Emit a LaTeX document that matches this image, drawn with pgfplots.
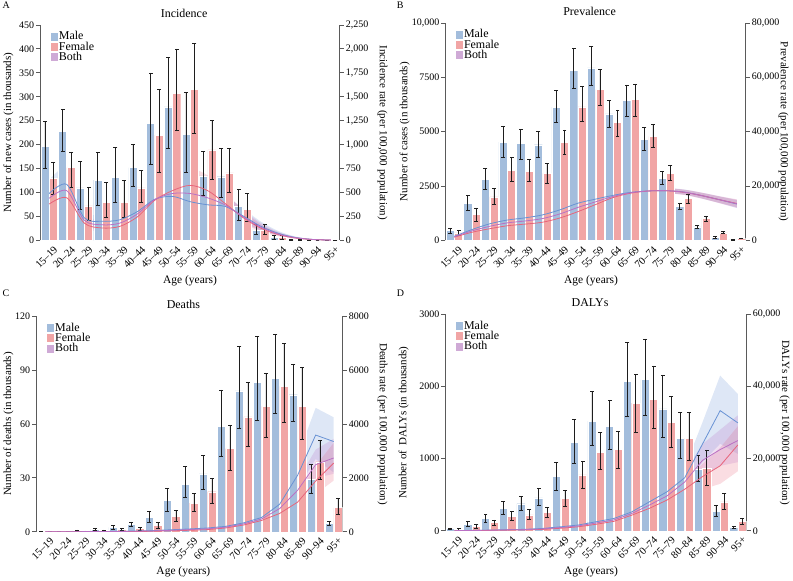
\documentclass[border=0pt]{standalone}
\usepackage{fontspec}
\setmainfont{Liberation Serif}
\usepackage{pgfplots}
\pgfplotsset{compat=1.18}
\usepackage{pgfplotstable}
\usepgfplotslibrary{fillbetween}

\definecolor{malec}{RGB}{163,189,220}
\definecolor{femc}{RGB}{241,165,165}
\definecolor{bothc}{RGB}{207,170,214}
\definecolor{malel}{RGB}{104,146,212}
\definecolor{feml}{RGB}{232,100,122}
\definecolor{bothl}{RGB}{186,112,196}
\definecolor{axgray}{RGB}{90,90,90}
\definecolor{errc}{RGB}{30,30,30}

% ---------------- data ----------------
\pgfplotstableread{
x m ml mh f fl fh
0 196 151 248 130 96 164
1 228 186 273 152 112 185
2 110 66 165 72 42 112
3 126 74 184 79 48 121
4 132 80 195 80 49 125
5 152 113 201 110 79 146
6 245 160 350 220 143 315
7 279 192 382 307 231 400
8 221 143 309 315 223 412
9 135 95 186 189 127 251
10 133 91 193 141 100 193
11 71 42 107 65 39 99
12 22 12 33 22 13 33
13 6 2 10 7 3 11
14 2 0.5 3 2 1 3
15 0.5 0.2 0.8 0.8 0.3 1.2
16 0.2 0.1 0.3 0.3 0.1 0.5
}\barsA
\pgfplotstableread{
x m ml mu f fl fu b bl bu
0 490 360 630 380 280 500 440 320 570
1 585 430 750 445 330 580 520 380 670
2 235 170 310 180 130 240 210 150 280
3 200 145 265 130 95 175 163 118 215
4 215 155 285 146 105 195 180 130 240
5 300 220 390 245 180 320 275 200 360
6 430 315 560 420 310 550 428 315 560
7 460 340 600 520 385 680 490 360 640
8 405 300 530 575 425 750 490 360 640
9 372 275 485 520 385 680 445 330 580
10 355 260 465 385 285 505 370 270 485
11 257 190 335 240 175 315 248 182 325
12 150 110 200 130 95 170 140 103 185
13 75 55 100 62 45 82 68 50 90
14 30 22 40 25 18 33 28 20 37
15 10 7 13 9 6 12 10 7 13
16 4 3 5 4 3 5 4 3 5
}\rateA
\pgfplotstableread{
x m ml mh f fl fh
0 470 350 580 350 250 460
1 1700 1400 2080 1200 900 1500
2 2820 2350 3320 2000 1650 2380
3 4520 3800 5250 3220 2700 3800
4 4450 3750 5100 3180 2700 3720
5 4400 3800 5000 3080 2620 3560
6 6130 5450 6900 4500 3950 5080
7 7830 6980 8820 6140 5480 7080
8 7930 7120 8930 6950 6200 7880
9 5820 5220 6450 5430 4800 6000
10 6430 5700 7150 6480 5700 7200
11 4660 4150 5180 4780 4280 5320
12 2870 2570 3160 3080 2760 3440
13 1580 1420 1730 1920 1720 2130
14 620 550 700 1010 900 1130
15 150 120 180 350 310 400
16 30 20 40 100 80 120
}\barsB
\pgfplotstableread{
x m ml mu f fl fu b bl bu
0 1500 1400 1600 1200 1100 1300 1350 1250 1450
1 4000 3800 4200 3000 2800 3200 3500 3300 3700
2 6100 5800 6400 4300 4050 4550 5200 4900 5500
3 7500 7150 7850 5400 5100 5700 6450 6100 6800
4 8300 7900 8700 6000 5700 6300 7150 6800 7500
5 9400 8950 9850 6700 6350 7050 8050 7650 8450
6 11300 10750 11850 8300 7900 8700 9800 9300 10300
7 13700 13000 14400 10600 10050 11150 12150 11550 12750
8 15200 14450 15950 13200 12550 13850 14200 13500 14900
9 16600 15750 17450 15800 15000 16600 16200 15400 17000
10 17700 16800 18600 17400 16550 18250 17550 16650 18450
11 18200 17300 19100 18200 17300 19100 18200 17300 19100
12 18300 17350 19250 18300 17350 19250 18300 17350 19250
13 17800 16850 18750 17700 16750 18650 17750 16800 18700
14 16500 15450 17550 16500 15450 17550 16500 15400 17600
15 15000 13800 16200 15000 13800 16200 15000 13700 16300
16 13400 12000 14800 13600 12200 15000 13500 11900 15100
}\rateB
\pgfplotstableread{
x m ml mh f fl fh
0 0.3 0.2 0.4 0.1 0.05 0.2
1 0.3 0.2 0.4 0.1 0.05 0.2
2 0.7 0.4 1.0 0.3 0.2 0.5
3 1.5 1.0 2.2 0.6 0.3 1.0
4 2.5 1.5 3.5 1.2 0.6 1.8
5 4.2 3.0 5.5 1.8 1.0 2.5
6 8.2 5.5 11.3 3.6 2.2 5.0
7 17.3 11.2 24 8.6 5.6 12
8 26.4 19.2 36.3 16 11.5 21.5
9 32.2 23.5 42.7 22.3 16 29.5
10 58.7 42 79 46.3 34.5 59.5
11 78.5 57.5 103 64 47.5 83
12 83.3 62 109 70 52.5 88.5
13 85.3 66 110 81 61 105
14 76.3 61.5 93 69.8 51.5 91.8
15 29 21.5 37.3 39 29 50.7
16 4.6 3.6 5.8 13.5 9.5 18.8
}\barsC
\pgfplotstableread{
x m ml mu f fl fu b bl bu
0 2 1.5 2.5 1 0.8 1.2 1.5 1.2 1.8
1 3 2.4 3.6 1 0.8 1.2 2 1.6 2.4
2 6 5 7 2 1.6 2.4 4 3.2 4.8
3 10 8 12 4 3.2 4.8 7 5.6 8.4
4 16 13 19 6 4.8 7.2 11 8.8 13
5 26 21 31 10 8 12 18 14 22
6 45 36 54 18 14 22 32 26 38
7 75 60 90 35 28 42 55 44 66
8 105 85 125 55 44 66 80 64 96
9 140 112 168 80 64 96 110 88 132
10 200 160 240 140 112 168 170 136 205
11 330 265 400 250 200 300 290 232 350
12 530 425 640 420 335 505 475 380 570
13 1020 800 1300 680 540 830 860 690 1040
14 2100 1600 2800 1100 850 1400 1540 1230 1900
15 3590 2700 4600 1880 1400 2450 2490 2000 3050
16 3350 2200 4250 2550 1900 3300 2740 2150 3450
}\rateC
\pgfplotstableread{
x m ml mh f fl fh
0 30 20 40 20 10 30
1 90 55 130 65 40 95
2 170 120 225 115 80 150
3 315 235 405 195 140 265
4 375 285 480 220 160 295
5 455 350 585 255 190 325
6 755 555 955 450 345 560
7 1225 935 1540 775 590 960
8 1520 1185 1930 1090 845 1365
9 1445 1130 1805 1125 870 1380
10 2075 1590 2605 1770 1360 2165
11 2095 1600 2660 1825 1420 2285
12 1690 1290 2150 1505 1150 1860
13 1280 1000 1640 1285 975 1640
14 850 680 1040 860 630 1120
15 270 205 350 400 300 520
16 45 35 55 130 90 170
}\barsD
\pgfplotstableread{
x m ml mu f fl fu b bl bu
0 30 24 36 15 12 18 22 18 26
1 100 80 120 60 48 72 80 64 96
2 180 145 215 110 88 132 145 116 174
3 300 240 360 180 145 215 240 190 290
4 400 320 480 240 190 290 320 255 385
5 650 520 780 380 300 460 515 410 620
6 1100 880 1320 700 560 840 900 720 1080
7 1600 1280 1920 1100 880 1320 1350 1080 1620
8 2500 2000 3000 1800 1440 2160 2150 1720 2580
9 3400 2700 4100 2600 2080 3120 3000 2400 3600
10 5200 4150 6250 4300 3450 5150 4750 3800 5700
11 8000 6400 9600 6200 4950 7450 7100 5700 8500
12 10800 8600 13000 8500 6800 10200 9650 7700 11600
13 14700 12000 17500 11500 9200 13800 13500 10800 16200
14 24000 19000 30000 15000 11500 18500 19500 15000 24000
15 33300 24100 43000 18000 13000 23000 22500 18000 28000
16 29900 21300 37900 23800 16500 29000 25000 19000 32000
}\rateD

% ---------------- styles ----------------
\pgfplotsset{
  common/.style={scale only axis, anchor=south west, xmin=-0.5, xmax=16.5, ymin=0,
    scaled y ticks=false,
    tick align=outside, major tick length=4pt,
    yticklabel style={font=\fontsize{10}{12}\selectfont, inner sep=2pt},
    ylabel style={font=\fontsize{11}{13}\selectfont, anchor=center},
    y axis line style={color=axgray, line width=0.8pt},
    ytick style={color=axgray, line width=0.8pt}},
  barax/.style={common, axis y line*=left, axis x line*=bottom,
    x axis line style={draw=none}, xtick={0,...,16},
    xticklabels={15--19,20--24,25--29,30--34,35--39,40--44,45--49,50--54,55--59,60--64,65--69,70--74,75--79,80--84,85--89,90--94,95+},
    xtick style={draw=none},
    xticklabel style={xshift=4pt, rotate=45, anchor=north east, font=\fontsize{10.5}{12}\selectfont, inner sep=0.5pt},
    xlabel={Age (years)}, xlabel style={font=\fontsize{11.5}{13}\selectfont, anchor=center},
    title style={font=\fontsize{12}{14}\selectfont, anchor=south, at={(axis description cs:0.48,1)}, yshift=-2pt},
    legend style={at={(axis description cs:0.03,0.975)}, anchor=north west, draw=none, fill=none,
      font=\fontsize{12}{12}\selectfont, inner sep=0pt, row sep=-1.5pt, nodes={inner sep=1pt}},
    legend cell align=left},
  ratax/.style={common, axis y line*=right, axis x line*=bottom,
    x axis line style={draw=none}, xtick=\empty,
    ylabel style={rotate=180}},
  sq/.style={legend image code/.code={\fill[##1] (0pt,-4.5pt) rectangle (8pt,4.5pt);}},
  errb/.style={error bars/.cd, y dir=both, y explicit, error mark=none,
    error bar style={color=errc, line width=0.6pt}},
  cap/.style={only marks, mark=-, mark size=2pt, color=errc, line width=0.6pt, forget plot},
  mbar/.style={ybar, bar width=0.46, bar shift=0pt, fill=malec, draw=white, line width=0.4pt, sq, errb},
  fbar/.style={ybar, bar width=0.46, bar shift=0pt, fill=femc, draw=white, line width=0.4pt, sq, errb},
}

\newcommand\bars[1]{%
  \addplot[mbar] table[x expr=\thisrow{x}-0.24, y=m,
     y error plus expr=\thisrow{mh}-\thisrow{m}, y error minus expr=\thisrow{m}-\thisrow{ml}]{#1};
  \addlegendentry{Male}
  \addplot[fbar] table[x expr=\thisrow{x}+0.24, y=f,
     y error plus expr=\thisrow{fh}-\thisrow{f}, y error minus expr=\thisrow{f}-\thisrow{fl}]{#1};
  \addlegendentry{Female}
  \addlegendimage{sq, fill=bothc, draw=white}
  \addlegendentry{Both}
  \addplot[cap] table[x expr=\thisrow{x}-0.24, y=mh]{#1};
  \addplot[cap] table[x expr=\thisrow{x}-0.24, y=ml]{#1};
  \addplot[cap] table[x expr=\thisrow{x}+0.24, y=fh]{#1};
  \addplot[cap] table[x expr=\thisrow{x}+0.24, y=fl]{#1};
}
% #1 table, #2 lo col, #3 hi col, #4 fill colour, #5 unique name, #6 curve style
\newcommand\band[6]{%
  \addplot[name path=#5lo, draw=none, #6] table[x=x, y=#2]{#1};
  \addplot[name path=#5hi, draw=none, #6] table[x=x, y=#3]{#1};
  \addplot[fill=#4, fill opacity=0.22, draw=none] fill between[of=#5lo and #5hi];
}
\newcommand\rates[3]{% #1 table, #2 prefix, #3 curve style
  \band{#1}{ml}{mu}{malel}{#2m}{#3}
  \band{#1}{fl}{fu}{feml}{#2f}{#3}
  \band{#1}{bl}{bu}{bothl}{#2b}{#3}
  \addplot[malel, line width=0.8pt, #3] table[x=x, y=m]{#1};
  \addplot[feml, line width=0.8pt, #3] table[x=x, y=f]{#1};
  \addplot[bothl, line width=0.8pt, #3] table[x=x, y=b]{#1};
}

\begin{document}
\begin{tikzpicture}
\path (0pt,0pt) rectangle (793pt,576pt);

% ===== A =====
\begin{axis}[barax, at={(40pt,335pt)}, width=300pt, height=216pt, ymax=450,
  ytick={0,50,...,450}, yticklabels={0,50,100,150,200,250,300,350,400,450},
  title={Incidence}, ylabel={Number of new cases (in thousands)},
  ylabel style={at={(axis description cs:-0.107,0.5)}},
  xlabel style={at={(axis description cs:0.5,-0.185)}}]
\bars{\barsA}
\end{axis}
\begin{axis}[ratax, at={(40pt,335pt)}, width=300pt, height=216pt, ymax=2250,
  ytick={0,250,...,2250}, yticklabels={0,250,500,750,{1,000},{1,250},{1,500},{1,750},{2,000},{2,250}},
  ylabel={Incidence rate (per 100,000 population)},
  ylabel style={at={(axis description cs:1.143,0.5)}}]
\rates{\rateA}{A}{smooth}
\end{axis}

% ===== B =====
\begin{axis}[barax, at={(446pt,335pt)}, width=301pt, height=218pt, ymax=10000,
  ytick={0,2500,5000,7500,10000}, yticklabels={0,2500,5000,7500,{10,000}},
  title={Prevalence}, ylabel={Number of cases (in thousands)},
  ylabel style={at={(axis description cs:-0.136,0.5)}},
  xlabel style={at={(axis description cs:0.485,-0.185)}}]
\bars{\barsB}
\end{axis}
\begin{axis}[ratax, at={(446pt,335pt)}, width=301pt, height=218pt, ymax=80000,
  ytick={0,20000,40000,60000,80000}, yticklabels={0,{20,000},{40,000},{60,000},{80,000}},
  ylabel={Prevalence rate (per 100,000 population)},
  ylabel style={at={(axis description cs:1.126,0.5)}}]
\rates{\rateB}{B}{smooth}
\end{axis}

% ===== C =====
\begin{axis}[barax, at={(36pt,43pt)}, width=307pt, height=216pt, ymax=120,
  ytick={0,30,60,90,120}, yticklabels={0,30,60,90,120},
  title={Deaths}, ylabel={Number of deaths (in thousands)},
  ylabel style={at={(axis description cs:-0.091,0.5)}},
  xlabel style={at={(axis description cs:0.48,-0.185)}}]
\bars{\barsC}
\end{axis}
\begin{axis}[ratax, at={(36pt,43pt)}, width=307pt, height=216pt, ymax=8000,
  ytick={0,2000,4000,6000,8000}, yticklabels={0,2000,4000,6000,8000},
  ylabel={Deaths rate (per 100,000 population)},
  ylabel style={at={(axis description cs:1.13,0.5)}}]
\rates{\rateC}{C}{sharp plot}
\end{axis}

% ===== D =====
\begin{axis}[barax, at={(446pt,44pt)}, width=302pt, height=217pt, ymax=3000,
  ytick={0,1000,2000,3000}, yticklabels={0,1000,2000,3000},
  title={DALYs}, ylabel={Number of\ \ DALYs (in thousands)},
  ylabel style={at={(axis description cs:-0.139,0.5)}},
  xlabel style={at={(axis description cs:0.483,-0.19)}}]
\bars{\barsD}
\end{axis}
\begin{axis}[ratax, at={(446pt,44pt)}, width=302pt, height=217pt, ymax=60000,
  ytick={0,20000,40000,60000}, yticklabels={0,{20,000},{40,000},{60,000}},
  ylabel={DALYs rate (per 100,000 population)},
  ylabel style={at={(axis description cs:1.126,0.5)}}]
\rates{\rateD}{D}{sharp plot}
\end{axis}

\node[anchor=north west, inner sep=0pt, font=\fontsize{10}{12}\selectfont] at (2pt,574pt) {A};
\node[anchor=north west, inner sep=0pt, font=\fontsize{10}{12}\selectfont] at (397pt,574pt) {B};
\node[anchor=north west, inner sep=0pt, font=\fontsize{10}{12}\selectfont] at (2pt,286pt) {C};
\node[anchor=north west, inner sep=0pt, font=\fontsize{10}{12}\selectfont] at (397pt,286pt) {D};
\end{tikzpicture}
\end{document}
